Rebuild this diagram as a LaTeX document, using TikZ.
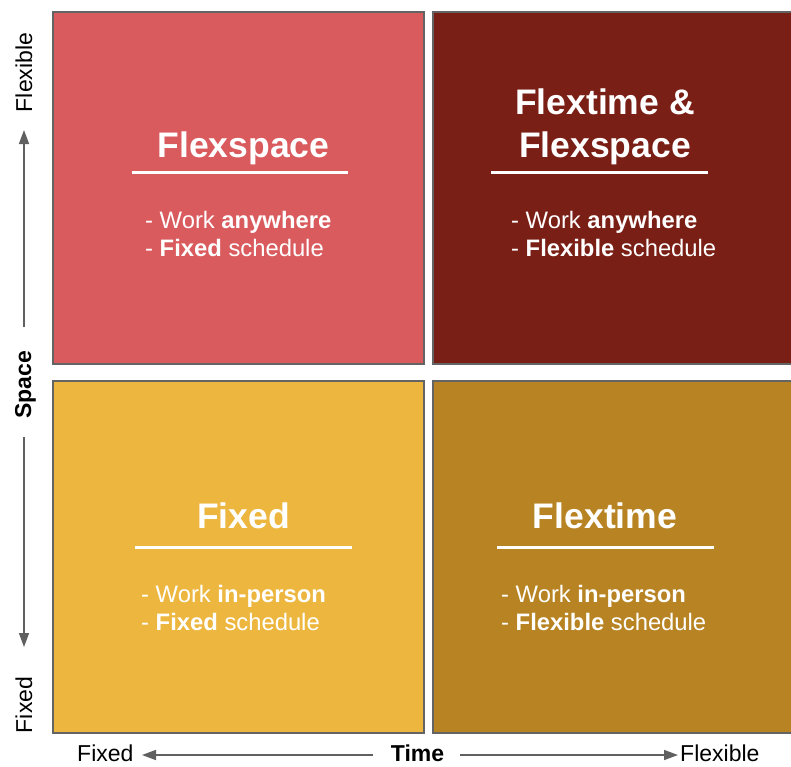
\documentclass[tikz,border=0pt]{standalone}
\usepackage{fontspec}
\setmainfont{Liberation Sans}
\usetikzlibrary{arrows.meta}
\definecolor{cTL}{RGB}{218,91,94}
\definecolor{cTR}{RGB}{122,31,22}
\definecolor{cBL}{RGB}{237,183,63}
\definecolor{cBR}{RGB}{184,132,35}
\definecolor{edgegray}{RGB}{100,100,100}
\definecolor{axgray}{RGB}{96,96,96}
\begin{document}
\begin{tikzpicture}[x=1pt,y=-1pt,
  quad/.style={draw=edgegray, line width=1.5pt, inner sep=0pt, outer sep=0pt, anchor=north west},
  title/.style={text=white, font=\fontsize{35.5}{42}\selectfont\bfseries, anchor=base, inner sep=0pt},
  body/.style={text=white, font=\fontsize{23.8}{28}\selectfont, anchor=base west, inner sep=0pt},
  axislabel/.style={text=black, font=\fontsize{23}{28}\selectfont, inner sep=0pt},
  uline/.style={draw=white, line width=3pt},
  axarrow/.style={draw=axgray, line width=1.5pt, -{Triangle[length=14pt,width=10pt]}}]
\useasboundingbox (0,0) rectangle (791,766);
\clip (0,0) rectangle (791,766);
\fill[white] (0,0) rectangle (791,766);

% quadrants
\node[quad, fill=cTL, minimum width=371pt, minimum height=352pt] (tl) at (53,12) {};
\node[quad, fill=cTR, minimum width=372pt, minimum height=352pt] (tr) at (433,12) {};
\node[quad, fill=cBL, minimum width=371pt, minimum height=352pt] (bl) at (53,381) {};
\node[quad, fill=cBR, minimum width=372pt, minimum height=352pt] (br) at (433,381) {};

% top-left
\node[title] (tlt) at (243.5,157) {Flexspace};
\draw[uline] (132,172) -- (348,172);
\node[body] (tlb1) at (145,228) {- Work \textbf{anywhere}};
\node[body] (tlb2) at (145,256) {- \textbf{Fixed} schedule};

% top-right
\node[title] (trt1) at (605,114) {Flextime \&};
\node[title] (trt2) at (605,157) {Flexspace};
\draw[uline] (491,172) -- (708,172);
\node[body] (trb1) at (511,228) {- Work \textbf{anywhere}};
\node[body] (trb2) at (511,256) {- \textbf{Flexible} schedule};

% bottom-left
\node[title] (blt) at (243.5,528) {Fixed};
\draw[uline] (135,547) -- (352,547);
\node[body] (blb1) at (141,602) {- Work \textbf{in-person}};
\node[body] (blb2) at (141,630) {- \textbf{Fixed} schedule};

% bottom-right
\node[title] (brt) at (605,528) {Flextime};
\draw[uline] (497,547) -- (714,547);
\node[body] (brb1) at (501,602) {- Work \textbf{in-person}};
\node[body] (brb2) at (501,630) {- \textbf{Flexible} schedule};

% vertical axis
\node[axislabel, rotate=90, anchor=base] (yflex) at (32,72.5) {Flexible};
\node[axislabel, rotate=90, anchor=base, font=\fontsize{23}{28}\selectfont\bfseries] (yspace) at (31,385) {Space};
\node[axislabel, rotate=90, anchor=base] (yfixed) at (32,705) {Fixed};
\coordinate (ytop) at (24,130);
\coordinate (yu) at (24,327);
\coordinate (yl) at (24,437);
\coordinate (ybot) at (24,647);
\draw[axarrow] (yu) -- (ytop);
\draw[axarrow] (yl) -- (ybot);

% horizontal axis
\node[axislabel, anchor=base west] (xfixed) at (77,761.5) {Fixed};
\node[axislabel, anchor=base, font=\fontsize{23}{28}\selectfont\bfseries] (xtime) at (417.5,761.5) {Time};
\node[axislabel, anchor=base west] (xflex) at (680,761.5) {Flexible};
\coordinate (xleft) at (142,755);
\coordinate (xlu) at (373,755);
\coordinate (xru) at (460,755);
\coordinate (xright) at (678,755);
\draw[axarrow] (xlu) -- (xleft);
\draw[axarrow] (xru) -- (xright);
\end{tikzpicture}
\end{document}
